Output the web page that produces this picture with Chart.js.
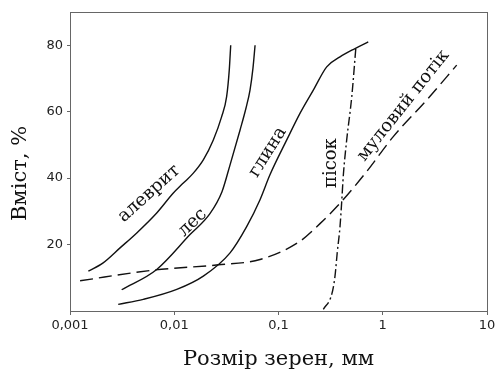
<!DOCTYPE html>
<html>
<head>
<meta charset="utf-8">
<script src="https://cdn.jsdelivr.net/npm/chart.js@4"></script>
<style>
  html, body { margin: 0; padding: 0; background: #fff; }
  #wrap { width: 496px; height: 372px; }
</style>
</head>
<body>
<div id="wrap"><canvas id="grainChart"></canvas></div>
<script>
// Grain size (mm) vs cumulative content (%)
const aleuriteX = [0.0015, 0.00208, 0.00302, 0.00437, 0.00679, 0.0098, 0.01222, 0.01524, 0.019, 0.0237, 0.0285, 0.0318, 0.0337, 0.0348];
const aleuriteY = [12.0, 14.5, 19.0, 23.5, 29.5, 35.5, 38.5, 41.5, 45.5, 51.5, 58.5, 64.5, 72.5, 80.0];

const loessX = [0.00313, 0.00679, 0.01416, 0.022, 0.0287, 0.0343, 0.0428, 0.0488, 0.0533, 0.0569, 0.0596];
const loessY = [6.4, 12.5, 23.0, 29.3, 35.9, 44.0, 54.5, 61.1, 66.5, 73.1, 80.0];

const clayX = [0.0029, 0.00505, 0.01057, 0.019, 0.0343, 0.0495, 0.0665, 0.0828, 0.12, 0.1607, 0.2158, 0.29, 0.389, 0.542, 0.726];
const clayY = [2.0, 3.5, 6.5, 10.5, 17.5, 25.4, 33.5, 41.0, 51.5, 59.5, 66.5, 73.5, 76.5, 79.0, 81.0];

const sandX = [0.269, 0.324, 0.348, 0.366, 0.389, 0.404, 0.419, 0.451, 0.504, 0.553];
const sandY = [0.5, 5.0, 10.4, 17.6, 25.4, 32.9, 41.0, 51.5, 64.4, 79.5];

const mudflowX = [0.00125, 0.0063, 0.0265, 0.0665, 0.1607, 0.25, 0.404, 0.702, 1.262, 2.64, 5.12];
const mudflowY = [9.1, 12.3, 13.9, 15.5, 21.0, 26.3, 33.0, 42.0, 52.5, 63.5, 74.0];

const xTickValues = [0.001, 0.01, 0.1, 1, 10];
const xTickLabels = ["0,001", "0,01", "0,1", "1", "10"];
const yTickValues = [20, 40, 60, 80];

const toPoints = (xs, ys) => xs.map((x, i) => ({ x: x, y: ys[i] }));

const ink = "#111";
const frame = "#666";

// curve captions, anchored in data space
const curveLabels = [
  { text: "алеврит", x: 0.00573, y: 35.3, angle: -42 },
  { text: "лес", x: 0.01496, y: 26.6, angle: -43 },
  { text: "глина", x: 0.079, y: 47.8, angle: -58 },
  { text: "пісок", x: 0.319, y: 44.5, angle: -90 },
  { text: "муловий потік", x: 1.574, y: 61.8, angle: -51.5 },
];

const captionPlugin = {
  id: "captions",
  afterDatasetsDraw(chart) {
    const { ctx, scales, chartArea } = chart;
    ctx.save();
    ctx.fillStyle = ink;
    ctx.textAlign = "center";
    ctx.textBaseline = "middle";
    ctx.font = "18px 'DejaVu Serif'";
    curveLabels.forEach((lb) => {
      const px = scales.x.getPixelForValue(lb.x);
      const py = scales.y.getPixelForValue(lb.y);
      ctx.save();
      ctx.translate(px, py);
      ctx.rotate((lb.angle * Math.PI) / 180);
      ctx.fillText(lb.text, 0, 0);
      ctx.restore();
    });
    // y axis title, sits a bit below the middle of the plot
    ctx.font = "21px 'DejaVu Serif'";
    ctx.save();
    ctx.translate(21, (chartArea.top + chartArea.bottom) / 2 + 12);
    ctx.rotate(-Math.PI / 2);
    ctx.fillText("Вміст, %", 0, 0);
    ctx.restore();
    ctx.restore();
  },
};

const framePlugin = {
  id: "frame",
  afterDraw(chart) {
    const { ctx, chartArea: a } = chart;
    ctx.save();
    ctx.strokeStyle = frame;
    ctx.lineWidth = 1;
    ctx.strokeRect(Math.round(a.left) + 0.5, Math.round(a.top) + 0.5, Math.round(a.right - a.left), Math.round(a.bottom - a.top));
    ctx.restore();
  },
};

const lineStyle = {
  borderColor: ink,
  borderWidth: 1.4,
  pointRadius: 0,
  fill: false,
  cubicInterpolationMode: "monotone",
};

new Chart(document.getElementById("grainChart"), {
  type: "line",
  data: {
    datasets: [
      { label: "алеврит", data: toPoints(aleuriteX, aleuriteY), ...lineStyle },
      { label: "лес", data: toPoints(loessX, loessY), ...lineStyle },
      { label: "глина", data: toPoints(clayX, clayY), ...lineStyle },
      { label: "пісок", data: toPoints(sandX, sandY), ...lineStyle, borderDash: [9, 3, 2, 3] },
      { label: "муловий потік", data: toPoints(mudflowX, mudflowY), ...lineStyle, borderDash: [13, 6] },
    ],
  },
  options: {
    responsive: true,
    maintainAspectRatio: false,
    animation: false,
    layout: { padding: { top: 12, right: 9, left: 0, bottom: 0 } },
    plugins: { legend: { display: false }, tooltip: { enabled: false } },
    scales: {
      x: {
        type: "logarithmic",
        min: 0.001,
        max: 10,
        afterBuildTicks: (s) => { s.ticks = xTickValues.map((v) => ({ value: v })); },
        afterFit: (s) => { s.height = 61; s.paddingRight = 0; s.paddingLeft = 0; },
        ticks: {
          color: "#222",
          font: { family: "DejaVu Sans", size: 13 },
          padding: 3,
          maxRotation: 0,
          callback: (v) => { const i = xTickValues.indexOf(v); return i >= 0 ? xTickLabels[i] : ""; },
        },
        grid: { drawOnChartArea: false, drawTicks: true, tickLength: 4, color: frame },
        border: { color: frame },
        title: {
          display: true,
          text: "Розмір зерен, мм",
          color: "#111",
          font: { family: "DejaVu Serif", size: 21 },
          padding: { top: 0, bottom: 0 },
        },
      },
      y: {
        min: 0,
        max: 90,
        afterBuildTicks: (s) => { s.ticks = yTickValues.map((v) => ({ value: v })); },
        afterFit: (s) => { s.width = 70; },
        ticks: {
          color: "#222",
          font: { family: "DejaVu Sans", size: 13 },
          padding: 4,
        },
        grid: { drawOnChartArea: false, drawTicks: true, tickLength: 3, color: frame },
        border: { color: frame },
      },
    },
  },
  plugins: [captionPlugin, framePlugin],
});
</script>
</body>
</html>
